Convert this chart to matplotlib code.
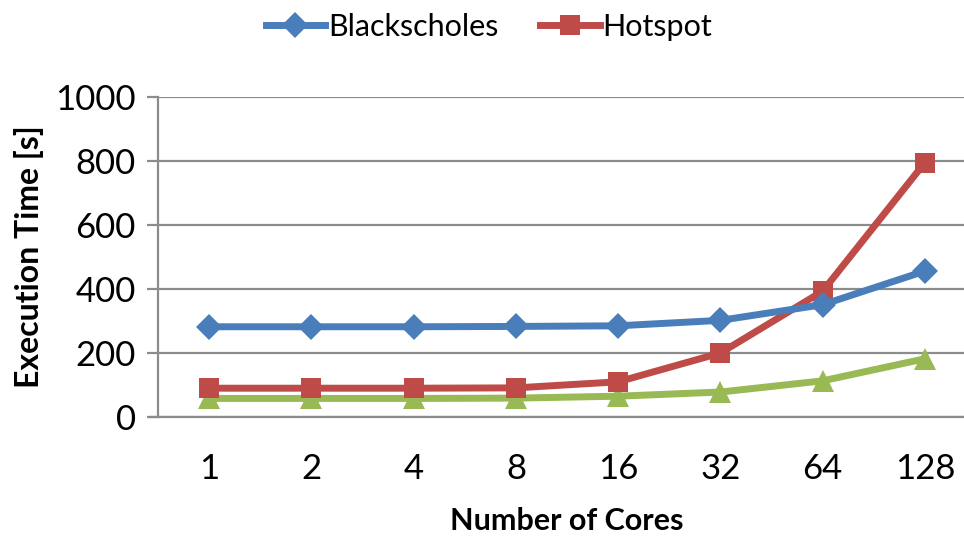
import matplotlib
matplotlib.use("Agg")
import matplotlib.pyplot as plt
from matplotlib.lines import Line2D

plt.rcParams['font.family'] = ['Lato', 'DejaVu Sans']

cores = ["1", "2", "4", "8", "16", "32", "64", "128"]
blackscholes = [282, 282, 282, 283, 285, 302, 351, 456]
hotspot = [90, 90, 90, 91, 110, 200, 393, 795]
third_series = [58, 58, 58, 59, 65, 78, 113, 182]

y_ticks = [0, 200, 400, 600, 800, 1000]

BLUE = "#4A7EBB"
RED = "#BE4B48"
GREEN = "#98B954"
GRID = "#8C8C8C"

fig = plt.figure(figsize=(9.64, 5.36), dpi=100)
ax = fig.add_axes([158 / 964, 1 - 417 / 536, (976 - 158) / 964, 320 / 536])

x = list(range(len(cores)))
ax.plot(x, third_series, color=GREEN, lw=5, marker="^", ms=16,
        markeredgewidth=0, label="_nolegend_", zorder=3)
ax.plot(x, hotspot, color=RED, lw=5, marker="s", ms=14,
        markeredgewidth=0, label="Hotspot", zorder=4)
ax.plot(x, blackscholes, color=BLUE, lw=5, marker="D", ms=13,
        markeredgewidth=0, label="Blackscholes", zorder=5)

ax.set_xlim(-0.5, len(cores) - 0.5)
ax.set_ylim(0, 1000)
ax.set_yticks(y_ticks)
ax.set_xticks(x)
ax.set_xticklabels(cores)

ax.grid(axis="y", color=GRID, lw=1.6)
ax.set_axisbelow(True)
for side in ("top", "right"):
    ax.spines[side].set_visible(False)
ax.spines["left"].set_color(GRID)
ax.spines["left"].set_linewidth(1.6)
ax.spines["bottom"].set_color(GRID)
ax.spines["bottom"].set_linewidth(1.6)
ax.spines["bottom"].set_bounds(-0.58, len(cores) - 0.5)

ax.tick_params(axis="y", length=8, width=1.6, color=GRID, labelsize=25, pad=8)
ax.tick_params(axis="x", length=0, labelsize=25, pad=26)

ax.set_ylabel("Execution Time [s]", fontsize=23, fontweight="bold", labelpad=8)
ax.set_xlabel("Number of Cores", fontsize=22, fontweight="bold", labelpad=16)

handles = [
    Line2D([], [], color=BLUE, lw=5, marker="D", ms=13, markeredgewidth=0),
    Line2D([], [], color=RED, lw=5, marker="s", ms=14, markeredgewidth=0),
]
fig.legend(handles, ["Blackscholes", "Hotspot"], loc="upper center",
           bbox_to_anchor=(489 / 964, 1.005), ncol=2, frameon=False,
           fontsize=22, handlelength=1.95, handletextpad=0.1,
           columnspacing=1.35, borderaxespad=0.1)

fig.savefig("out.png", dpi=100)
